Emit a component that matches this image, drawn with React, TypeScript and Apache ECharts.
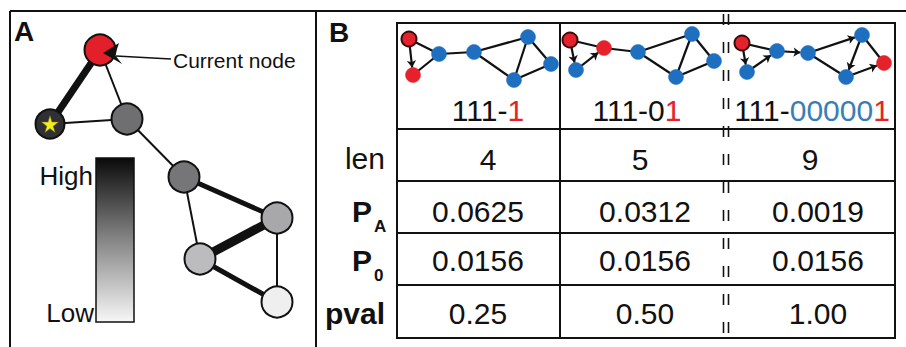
import React, { useEffect, useRef } from "react";
import * as echarts from "echarts";

// ---------- data ----------
const colHeadBlack = ["111-", "111-0", "111-"];
const colHeadBlue = ["", "", "00000"];
const colHeadRed = ["1", "1", "1"];
const rowLabelMain = ["len", "P", "P", "pval"];
const rowLabelSub = ["", "A", "0", ""];
const lenValues = ["4", "5", "9"];
const paValues = ["0.0625", "0.0312", "0.0019"];
const p0Values = ["0.0156", "0.0156", "0.0156"];
const pvalValues = ["0.25", "0.50", "1.00"];

// Panel A network: [x, y, grey shade]
const nodesA: [number, number, string][] = [
  [100, 50, "#e3202a"],
  [50, 124, "#2f2f34"],
  [127, 119, "#6f6f71"],
  [184, 177, "#767678"],
  [277, 218, "#a8a8aa"],
  [200, 259, "#bcbcbe"],
  [277, 302, "#efefef"],
];
// [source, target, transition weight]
const edgesA: [number, number, number][] = [
  [0, 1, 7],
  [0, 2, 2],
  [1, 2, 2],
  [2, 3, 2],
  [3, 4, 5],
  [3, 5, 2],
  [4, 5, 9],
  [4, 6, 2],
  [5, 6, 5],
];

// Panel B networks: [x, y, kind] ; kind r = visited red, b = blue
const net1Nodes: [number, number, string][] = [
  [409, 39, "r"], [413, 75, "r"], [439, 54, "b"], [474, 52, "b"],
  [528, 37, "b"], [551, 64, "b"], [514, 80, "b"],
];
const net1Edges: [number, number, number][] = [
  [0, 1, 1], [0, 2, 0], [1, 2, 0], [2, 3, 0], [3, 4, 0], [3, 6, 0], [4, 6, 0], [4, 5, 0], [5, 6, 0],
];
const net2Nodes: [number, number, string][] = [
  [570, 40, "r"], [576, 70, "b"], [604, 48, "r"], [638, 52, "b"],
  [692, 34, "b"], [714, 61, "b"], [676, 77, "b"],
];
const net2Edges: [number, number, number][] = [
  [0, 1, 1], [1, 2, 1], [0, 2, 0], [2, 3, 0], [3, 4, 0], [3, 6, 0], [4, 6, 0], [4, 5, 0], [5, 6, 0],
];
const net3Nodes: [number, number, string][] = [
  [742, 43, "r"], [747, 72, "b"], [777, 51, "b"], [808, 53, "b"],
  [862, 35, "b"], [884, 63, "r"], [846, 77, "b"],
];
const net3Edges: [number, number, number][] = [
  [0, 1, 1], [1, 2, 1], [0, 2, 0], [2, 3, 1], [3, 4, 1], [4, 6, 1], [6, 5, 1], [3, 6, 0], [4, 5, 0],
];

// ---------- styling ----------
const FONT = '"Liberation Sans", Arial, Helvetica, sans-serif';
const RED = "#e5222b";
const BLUE = "#1f6fc0";
const TXT_BLUE = "#3a7db6";
const INK = "#111111";

const tableLeft = 397;
const tableRight = 895;
const tableTop = 23;
const tableBottom = 338;
const colLines = [560, 726];
const rowLines = [129, 181, 233, 285];
const colCenters = [478, 645, 818];
const rowCenters = [159, 211, 260, 313];
const headerY = 110;

function smallNet(prefix: string, nodes: [number, number, string][], edges: [number, number, number][]) {
  return {
    type: "graph",
    coordinateSystem: "cartesian2d",
    layout: "none",
    silent: true,
    z: 3,
    label: { show: false },
    emphasis: { disabled: true },
    data: nodes.map((n, i) => ({
      name: prefix + i,
      value: [n[0], n[1]],
      symbol: "circle",
      symbolSize: 15,
      itemStyle: {
        color: n[2] === "r" ? RED : BLUE,
        borderColor: i === 0 ? "#3a0b0d" : n[2] === "r" ? RED : BLUE,
        borderWidth: i === 0 ? 2 : 0.5,
        opacity: 1,
      },
    })),
    links: edges.map((e) => ({
      source: prefix + e[0],
      target: prefix + e[1],
      symbol: e[2] ? ["none", "arrow"] : ["none", "none"],
      symbolSize: [4, 7],
      lineStyle: { color: INK, width: 2.2, opacity: 1, curveness: 0 },
    })),
    lineStyle: { color: INK, width: 2.2, opacity: 1, curveness: 0 },
  };
}

export default function App() {
  const ref = useRef<HTMLDivElement>(null);

  useEffect(() => {
    document.body.style.margin = "0";
    if (!ref.current) return;
    const chart = echarts.init(ref.current, undefined, { renderer: "svg" });

    const graphic: any[] = [];
    const text = (t: string, x: number, y: number, font: string, align = "center", fill = INK, z = 10) => ({
      type: "text",
      z,
      silent: true,
      style: {
        text: t,
        x,
        y,
        font,
        fill,
        align,
        verticalAlign: "middle",
        textAlign: align,
        textVerticalAlign: "middle",
      },
    });
    const line = (x1: number, y1: number, x2: number, y2: number, w = 2, dash?: number[]) => ({
      type: "line",
      z: 1,
      silent: true,
      shape: { x1, y1, x2, y2 },
      style: { stroke: INK, lineWidth: w, lineDash: dash },
    });

    // frames
    graphic.push(line(10, 11, 906, 11, 2));
    graphic.push(line(10, 11, 10, 347, 2));
    graphic.push(line(316, 11, 316, 347, 2));

    // panel labels
    graphic.push(text("A", 14, 31, `bold 28px ${FONT}`, "left"));
    graphic.push(text("B", 329, 32, `bold 28px ${FONT}`, "left"));

    // current node arrow
    graphic.push({
      type: "line",
      z: 100,
      silent: true,
      shape: { x1: 116, y1: 56, x2: 171, y2: 59 },
      style: { stroke: INK, lineWidth: 1.5 },
    });
    graphic.push({
      type: "polygon",
      z: 100,
      silent: true,
      shape: { points: [[103, 53], [119, 43], [115, 55], [122, 64]] },
      style: { fill: INK },
    });
    graphic.push(text("Current node", 173, 60, `21px ${FONT}`, "left"));

    // gradient legend
    graphic.push({
      type: "rect",
      z: 1,
      silent: true,
      shape: { x: 96, y: 158, width: 38, height: 164 },
      style: {
        fill: new echarts.graphic.LinearGradient(0, 0, 0, 1, [
          { offset: 0, color: "#0a0a0a" },
          { offset: 0.45, color: "#7a7a7a" },
          { offset: 1, color: "#f7f7f7" },
        ]),
        stroke: INK,
        lineWidth: 1.5,
      },
    });
    graphic.push(text("High", 93, 176, `26px ${FONT}`, "right"));
    graphic.push(text("Low", 94, 313, `26px ${FONT}`, "right"));

    // table
    graphic.push({
      type: "rect",
      z: 1,
      silent: true,
      shape: { x: tableLeft, y: tableTop, width: tableRight - tableLeft, height: tableBottom - tableTop },
      style: { fill: "none", stroke: INK, lineWidth: 2 },
    });
    rowLines.forEach((y) => graphic.push(line(tableLeft, y, tableRight, y, 2)));
    graphic.push(line(colLines[0], tableTop, colLines[0], tableBottom, 2));
    // broken (dashed double) separator
    graphic.push(line(colLines[1] - 2.5, 14, colLines[1] - 2.5, 347, 1.6, [11, 17]));
    graphic.push(line(colLines[1] + 2.5, 14, colLines[1] + 2.5, 347, 1.6, [11, 17]));

    // headers
    colCenters.forEach((cx, i) => {
      graphic.push({
        type: "text",
        z: 10,
        silent: true,
        style: {
          text: `{k|${colHeadBlack[i]}}` + (colHeadBlue[i] ? `{b|${colHeadBlue[i]}}` : "") + `{r|${colHeadRed[i]}}`,
          x: i === 1 ? 637 : i === 0 ? 488 : 812,
          y: headerY,
          align: "center",
          verticalAlign: "middle",
          textAlign: "center",
          textVerticalAlign: "middle",
          font: `30px ${FONT}`,
          rich: {
            k: { fill: INK, color: INK, font: `30px ${FONT}` },
            b: { fill: TXT_BLUE, color: TXT_BLUE, font: `30px ${FONT}` },
            r: { fill: RED, color: RED, font: `30px ${FONT}` },
          },
        },
      });
    });

    // row labels
    rowLabelMain.forEach((lab, r) => {
      const y = r === 0 ? rowCenters[r] - 1 : rowCenters[r];
      if (rowLabelSub[r]) {
        graphic.push(text(lab, 372, y, `bold 30px ${FONT}`, "right"));
        graphic.push(text(rowLabelSub[r], 374, y + 15, `bold 17px ${FONT}`, "left"));
      } else {
        graphic.push(text(lab, 385, y, r === 3 ? `bold 30px ${FONT}` : `30px ${FONT}`, "right"));
      }
    });

    // values
    const rows = [lenValues, paValues, p0Values, pvalValues];
    rows.forEach((vals, r) => {
      vals.forEach((v, c) => {
        graphic.push(text(v, colCenters[c] + (r === 0 ? [10, -5, -8][c] : 0), rowCenters[r], `30px ${FONT}`, "center"));
      });
    });

    const seriesA = {
      type: "graph",
      coordinateSystem: "cartesian2d",
      layout: "none",
      silent: true,
      z: 3,
      label: { show: false },
      emphasis: { disabled: true },
      data: nodesA.map((n, i) => ({
        name: "a" + i,
        value: [n[0], n[1]],
        symbol: "circle",
        symbolSize: i === 1 ? 29 : 31,
        itemStyle: { color: n[2], borderColor: INK, borderWidth: 2, opacity: 1 },
      })),
      links: edgesA.map((e) => ({
        source: "a" + e[0],
        target: "a" + e[1],
        lineStyle: { color: INK, width: e[2], opacity: 1, curveness: 0 },
      })),
      lineStyle: { color: INK, width: 2, opacity: 1, curveness: 0 },
    };

    const starPath =
      "path://M50,0 L61,35 L98,35 L68,57 L79,91 L50,70 L21,91 L32,57 L2,35 L39,35 Z";

    chart.setOption({
      animation: false,
      backgroundColor: "#ffffff",
      grid: { left: 0, right: 0, top: 0, bottom: 0 },
      xAxis: { type: "value", min: 0, max: 906, show: false },
      yAxis: { type: "value", min: 0, max: 347, inverse: true, show: false },
      tooltip: { show: false },
      graphic: { elements: graphic },
      series: [
        seriesA,
        {
          type: "scatter",
          silent: true,
          z: 5,
          symbol: starPath,
          symbolSize: 17,
          itemStyle: { color: "#f3ec1a", borderColor: "#6b6b20", borderWidth: 0.5, opacity: 1 },
          data: [[nodesA[1][0], nodesA[1][1]]],
        },
        smallNet("p", net1Nodes, net1Edges),
        smallNet("q", net2Nodes, net2Edges),
        smallNet("s", net3Nodes, net3Edges),
      ],
    });

    return () => chart.dispose();
  }, []);

  return <div ref={ref} style={{ width: 906, height: 347 }} />;
}
